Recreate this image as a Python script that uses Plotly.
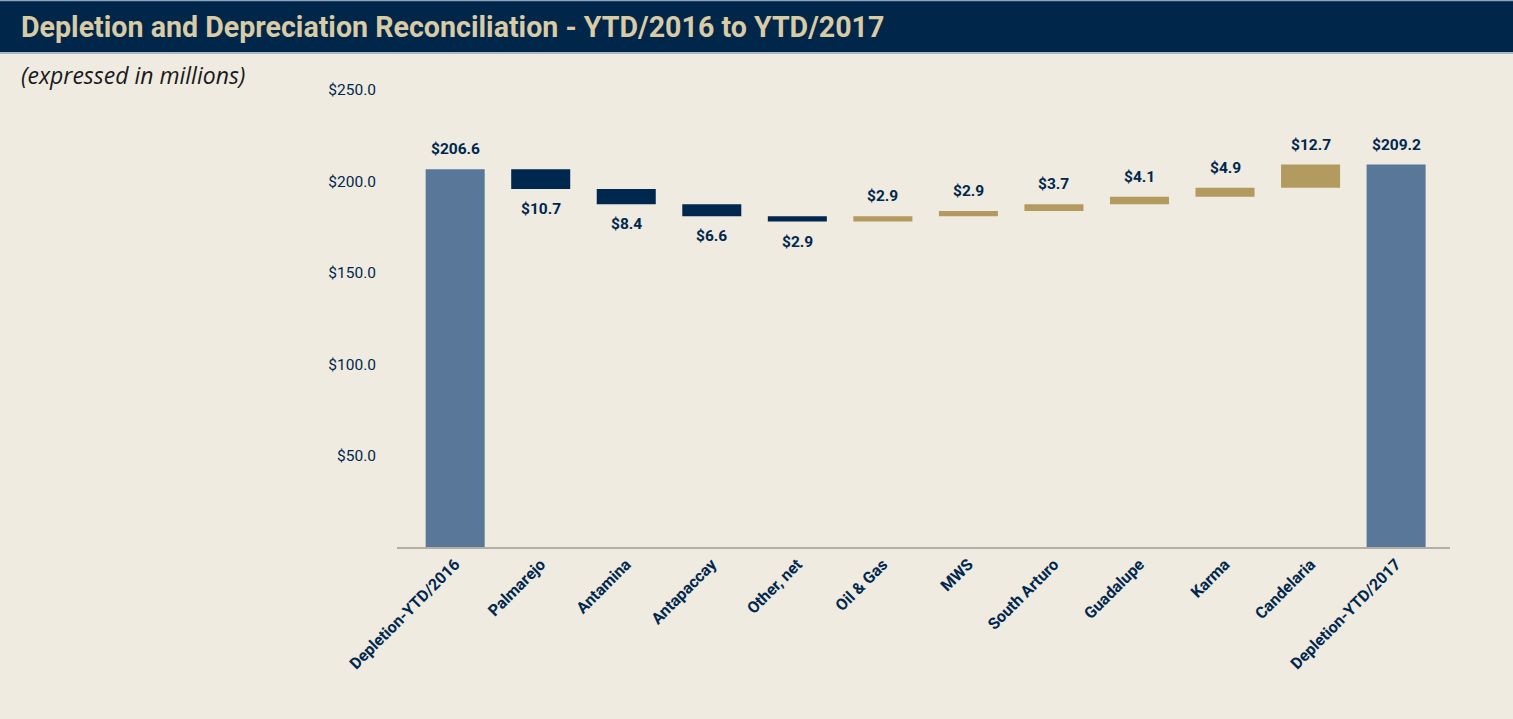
import plotly.graph_objects as go

categories = ["Depletion-YTD/2016", "Palmarejo", "Antamina", "Antapaccay", "Other, net",
              "Oil & Gas", "MWS", "South Arturo", "Guadalupe", "Karma", "Candelaria",
              "Depletion-YTD/2017"]
values = [206.6, -10.7, -8.4, -6.6, -2.9, 2.9, 2.9, 3.7, 4.1, 4.9, 12.7, 209.2]
measures = ["absolute", "relative", "relative", "relative", "relative", "relative",
            "relative", "relative", "relative", "relative", "relative", "total"]
y_ticks = [50, 100, 150, 200, 250]
y_tick_labels = ["$50.0", "$100.0", "$150.0", "$200.0", "$250.0"]

W, H = 1513, 719
ML, MR, MT, MB = 397, 63, 90, 172
plot_h = H - MT - MB

NAVY = "#00274d"
TAN = "#b39a5f"
TOTAL = "#587799"
BG = "#efebe1"
FONT = "Roboto, DejaVu Sans Condensed, sans-serif"

fig = go.Figure(go.Waterfall(
    x=categories, y=values, measure=measures,
    connector=dict(visible=False),
    increasing=dict(marker=dict(color=TAN)),
    decreasing=dict(marker=dict(color=NAVY)),
    totals=dict(marker=dict(color=TOTAL)),
    hoverinfo="skip",
))

def py(px):
    return (H - MB - px) / plot_h

def px_x(px):
    return (px - ML) / (W - ML - MR)

shapes = [
    dict(type="rect", xref="paper", yref="paper", x0=px_x(0), x1=px_x(W), y0=py(53), y1=py(0),
         fillcolor="#002649", line=dict(width=0), layer="below"),
    dict(type="line", xref="paper", yref="paper", x0=px_x(0), x1=px_x(W), y0=py(0.5), y1=py(0.5),
         line=dict(color="#8fa3bd", width=1.5)),
    dict(type="line", xref="paper", yref="paper", x0=px_x(0), x1=px_x(W), y0=py(53), y1=py(53),
         line=dict(color="#a9b7c9", width=2)),
]

annotations = [
    dict(text="<b>Depletion and Depreciation Reconciliation - YTD/2016 to YTD/2017</b>",
         xref="paper", yref="paper", x=px_x(19), y=py(27), xanchor="left", yanchor="middle",
         showarrow=False, font=dict(family=FONT, size=28.6, color="#d8cba6")),
    dict(text="<i>(expressed in millions)</i>",
         xref="paper", yref="paper", x=px_x(19), y=py(75), xanchor="left", yanchor="middle",
         showarrow=False, font=dict(family="Open Sans, Liberation Sans, sans-serif", size=23, color="#1a1a1a")),
]

# value labels, placed at the end of each bar through the data axes
running = 0.0
for cat, v, m in zip(categories, values, measures):
    if m == "absolute" or m == "total":
        running = v
        end, above = v, True
    else:
        running += v
        end, above = running, v > 0
    annotations.append(dict(
        x=cat, y=end, xref="x", yref="y", text=f"<b>${abs(v):.1f}</b>", showarrow=False,
        yanchor="bottom" if above else "top", yshift=9 if above else -9,
        font=dict(family=FONT, size=15.5, color=NAVY),
    ))

fig.update_layout(
    width=W, height=H,
    margin=dict(l=ML, r=MR, t=MT, b=MB),
    paper_bgcolor=BG, plot_bgcolor=BG,
    showlegend=False,
    waterfallgap=0.31,
    shapes=shapes,
    annotations=annotations,
    xaxis=dict(
        range=[-0.68, 11.63],
        tickangle=-45,
        tickfont=dict(family=FONT, size=16, color=NAVY, weight="bold"),
        showline=True, linecolor="#b3afa6", linewidth=1.5,
        showgrid=False, zeroline=False, ticks="",
    ),
    yaxis=dict(
        range=[0, 250],
        tickvals=y_ticks, ticktext=y_tick_labels,
        tickfont=dict(family=FONT, size=15.5, color=NAVY),
        showgrid=False, zeroline=False, showline=False, ticks="",
        ticklabelstandoff=20,
    ),
)

fig.write_html("out.html", config={"displayModeBar": False},
               post_script="document.body.style.margin='0';document.body.style.background='" + BG + "';")
